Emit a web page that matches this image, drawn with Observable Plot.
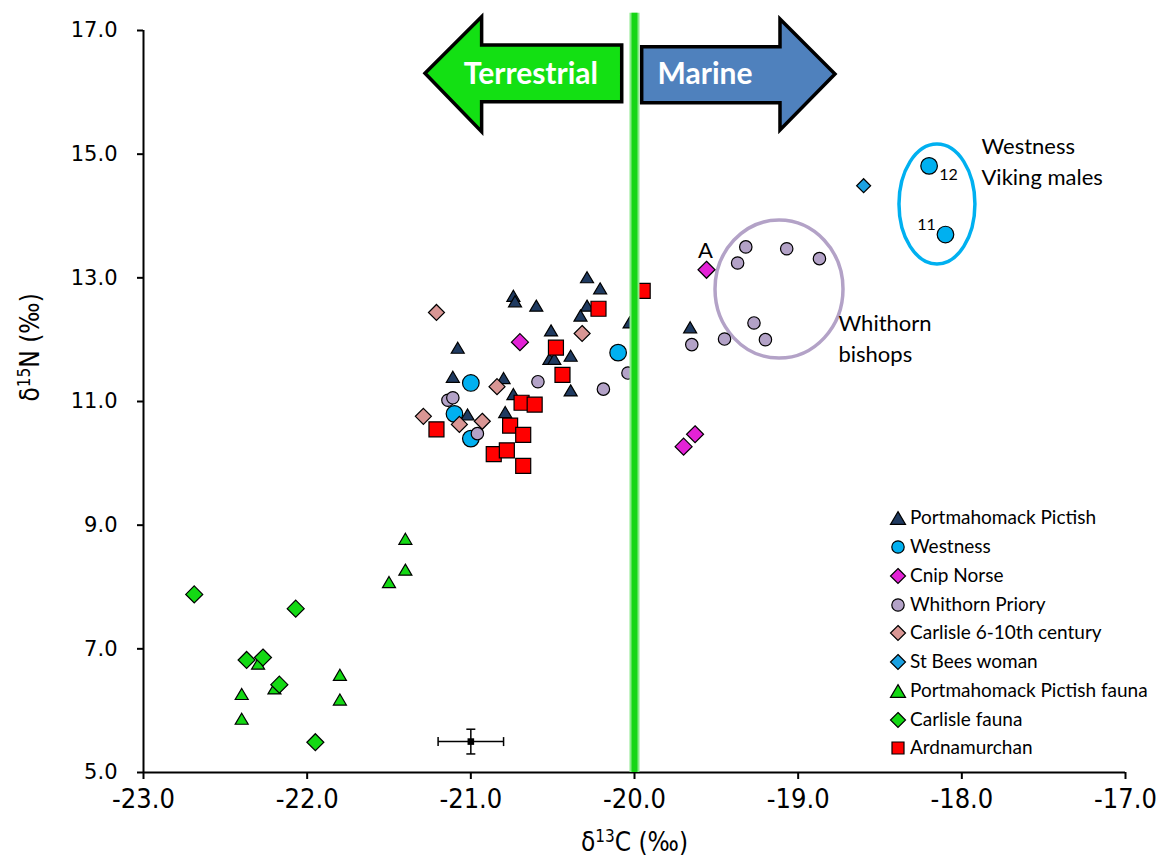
<!DOCTYPE html>
<html><head><meta charset="utf-8">
<script src="https://cdn.jsdelivr.net/npm/d3@7"></script>
<script src="https://cdn.jsdelivr.net/npm/@observablehq/plot@0.6"></script>
<style>
body{margin:0;background:#fff;}
#wrap{position:relative;width:1158px;height:863px;background:#fff;}
#wrap g[aria-label="x-axis tick label"]{font-family:"Liberation Sans Narrow","DejaVu Sans Condensed",Lato,sans-serif;font-size:27px;}
#wrap g[aria-label="y-axis tick label"]{font-family:"DejaVu Sans",sans-serif;font-size:21px;}
.leg{position:absolute;font-family:Lato,sans-serif;font-size:19px;color:#000;white-space:nowrap;line-height:20px;}
</style></head><body><div id="wrap"></div>
<script>
// ---- data: [δ13C, δ15N] ----
const portmahomack = [[-20.29,13.01],[-20.21,12.83],[-20.74,12.71],[-20.73,12.62],[-20.60,12.55],[-20.29,12.55],[-20.33,12.39],[-20.03,12.28],[-20.51,12.15],[-21.08,11.87],[-20.52,11.69],[-20.49,11.69],[-20.39,11.74],[-20.39,11.18],[-21.11,11.40],[-20.80,11.38],[-20.74,11.12],[-21.02,10.79],[-20.79,10.83],[-19.66,12.20]];
const westness = [[-20.10,11.79],[-21.00,11.30],[-21.10,10.80],[-21.00,10.40],[-18.20,14.81],[-18.10,13.70]];
const cnipNorse = [[-20.70,11.96],[-19.56,13.13],[-19.70,10.27],[-19.63,10.47]];
const whithorn = [[-20.04,11.46],[-20.19,11.20],[-20.59,11.32],[-21.14,11.02],[-21.11,11.06],[-20.96,10.48],[-19.65,11.92],[-19.32,13.50],[-19.37,13.24],[-19.07,13.47],[-18.87,13.31],[-19.27,12.27],[-19.20,12.00],[-19.45,12.01]];
const carlisle = [[-21.21,12.44],[-20.32,12.10],[-20.84,11.24],[-21.29,10.76],[-21.07,10.63],[-20.93,10.68]];
const stBees = [[-18.60,14.49]];
const portFauna = [[-21.40,8.78],[-21.40,8.28],[-21.50,8.08],[-22.30,6.76],[-22.20,6.36],[-22.40,6.27],[-22.40,5.87],[-21.80,6.58],[-21.80,6.18]];
const carlisleFauna = [[-22.69,7.88],[-22.07,7.65],[-22.37,6.82],[-22.27,6.86],[-22.17,6.42],[-21.95,5.49]];
const ardnamurchan = [[-19.95,12.79],[-20.22,12.50],[-20.48,11.87],[-20.44,11.43],[-20.69,10.98],[-20.61,10.95],[-21.21,10.55],[-20.76,10.61],[-20.68,10.46],[-20.86,10.15],[-20.78,10.21],[-20.68,9.96]];
const seriesNames = ["Portmahomack Pictish","Westness","Cnip Norse","Whithorn Priory","Carlisle 6-10th century","St Bees woman","Portmahomack Pictish fauna","Carlisle fauna","Ardnamurchan"];
const errorBar = [{c:-21.0, n:5.5, ec:0.2, en:0.2}];
const divideC = -20.0;
const xTicks = [-23,-22,-21,-20,-19,-18,-17];
const yTicks = [5,7,9,11,13,15,17];
const groupNotes = [
  {t:"Whithorn", c:-18.754, n:12.26},
  {t:"bishops", c:-18.754, n:11.745},
  {t:"Westness", c:-17.88, n:15.11},
  {t:"Viking males", c:-17.88, n:14.62}
];
const pointNotes = [
  {t:"A", c:-19.566, n:13.44, size:22},
  {t:"12", c:-18.082, n:14.67, size:16},
  {t:"11", c:-18.216, n:13.86, size:16}
];
const groupEllipses = [
  {c:-19.114, n:12.81, rc:0.391, rn:1.116, stroke:"#B3A2C7"},
  {c:-18.149, n:14.186, rc:0.232, rn:0.970, stroke:"#00B0F0"}
];

// ---- symbols ----
const rOf = s => Math.sqrt(s/Math.PI);
const diamond = {draw(c,s){const r=rOf(s);c.moveTo(0,-r);c.lineTo(r,0);c.lineTo(0,r);c.lineTo(-r,0);c.closePath();}};
const triangle = {draw(c,s){const r=rOf(s);c.moveTo(0,-0.85*r);c.lineTo(r,0.85*r);c.lineTo(-r,0.85*r);c.closePath();}};
const square = {draw(c,s){const r=rOf(s);c.moveTo(-r,-r);c.lineTo(r,-r);c.lineTo(r,r);c.lineTo(-r,r);c.closePath();}};
const circle = {draw(c,s){const r=rOf(s);c.moveTo(r,0);c.arc(0,0,r,0,2*Math.PI);}};
const vcap = {draw(c,s){const r=rOf(s);c.moveTo(0,-r);c.lineTo(0,r);}};
const hcap = {draw(c,s){const r=rOf(s);c.moveTo(-r,0);c.lineTo(r,0);}};

const series = [
  {data:portmahomack, symbol:triangle, fill:"#1F3A60", r:6.5, lr:7.5},
  {data:westness, symbol:circle, fill:"#00B0F0", r:8.3, lr:6.2},
  {data:cnipNorse, symbol:diamond, fill:"#E322D6", r:8.5, lr:7.5},
  {data:whithorn, symbol:circle, fill:"#B3A2C7", r:6.2, lr:6.2},
  {data:carlisle, symbol:diamond, fill:"#D99694", r:8, lr:7.5},
  {data:stBees, symbol:diamond, fill:"#1BA1E2", r:7, lr:7.5},
  {data:portFauna, symbol:triangle, fill:"#14D914", r:6.5, lr:7.5},
  {data:carlisleFauna, symbol:diamond, fill:"#14D914", r:8.5, lr:7.5},
  {data:ardnamurchan, symbol:square, fill:"#FF0000", r:7.5, lr:6}
].map((s,i)=>({...s, name:seriesNames[i]}));

// ---- annotation render marks ----
const arrowLeft = [[-21.277,16.30],[-20.931,17.215],[-20.931,16.757],[-20.075,16.757],[-20.075,15.84],[-20.931,15.84],[-20.931,15.355]];
const arrowRight = [[-19.953,16.73],[-19.108,16.73],[-19.108,17.178],[-18.772,16.288],[-19.108,15.383],[-19.108,15.824],[-19.953,15.824]];

function arrows(index, scales) {
  const {x, y} = scales;
  const g = d3.create("svg:g").attr("aria-label","arrows");
  const poly = (pts, fill) => g.append("path")
    .attr("d", "M" + pts.map(([c,n]) => `${x(c)},${y(n)}`).join("L") + "Z")
    .attr("fill", fill).attr("stroke","black").attr("stroke-width",3.5).attr("stroke-linejoin","miter");
  poly(arrowLeft, "#13E013");
  poly(arrowRight, "#4F81BD");
  const lab = (t, c, n) => g.append("text").attr("x", x(c)).attr("y", y(n)).attr("dy","0.36em")
    .attr("text-anchor","start")
    .attr("fill","white").attr("font-family","Lato, sans-serif").attr("font-weight","bold").attr("font-size",30).text(t);
  lab("Terrestrial", -21.04, 16.30);
  lab("Marine", -19.856, 16.30);
  return g.node();
}
function ellipses(index, scales) {
  const {x, y} = scales;
  const g = d3.create("svg:g").attr("aria-label","ellipses");
  for (const e of groupEllipses) {
    g.append("ellipse").attr("cx", x(e.c)).attr("cy", y(e.n))
      .attr("rx", Math.abs(x(e.c + e.rc) - x(e.c))).attr("ry", Math.abs(y(e.n + e.rn) - y(e.n)))
      .attr("fill","none").attr("stroke", e.stroke).attr("stroke-width",3.5);
  }
  return g.node();
}

const dotMarks = series.map(s => Plot.dot(s.data, {x: d=>d[0], y: d=>d[1], symbol: s.symbol, r: s.r, fill: s.fill, stroke:"black", strokeWidth:1.2}));

const X_TITLE = "δ13C (‰)", Y_TITLE = "δ15N (‰)";

const chart = Plot.plot({
  width: 1158, height: 863,
  marginLeft: 143, marginRight: 33, marginTop: 30, marginBottom: 91,
  x: {domain: [-23, -17]},
  y: {domain: [5, 17]},
  style: {background: "white", fontFamily: "Lato, sans-serif", overflow: "visible", color: "black"},
  marks: [
    Plot.axisX({ticks: xTicks, tickFormat: d => d.toFixed(1), tickSize: 7, tickPadding: 9, strokeWidth: 2, label: null}),
    Plot.axisY({ticks: yTicks, tickFormat: d => d.toFixed(1), tickSize: 6, tickPadding: 20, strokeWidth: 2, label: null}),
    Plot.ruleY([5], {stroke: "black", strokeWidth: 2}),
    Plot.ruleX([-23], {y1: 5, y2: 17, stroke: "black", strokeWidth: 2}),
    // error bar
    Plot.link(errorBar, {x1: d => d.c - d.ec, x2: d => d.c + d.ec, y1: "n", y2: "n", stroke: "black", strokeWidth: 1.5}),
    Plot.link(errorBar, {x1: "c", x2: "c", y1: d => d.n - d.en, y2: d => d.n + d.en, stroke: "black", strokeWidth: 1.5}),
    Plot.dot(errorBar, {x: d => d.c - d.ec, y: "n", symbol: vcap, r: 4.5, stroke: "black", strokeWidth: 1.5, fill: "none"}),
    Plot.dot(errorBar, {x: d => d.c + d.ec, y: "n", symbol: vcap, r: 4.5, stroke: "black", strokeWidth: 1.5, fill: "none"}),
    Plot.dot(errorBar, {x: "c", y: d => d.n - d.en, symbol: hcap, r: 4.5, stroke: "black", strokeWidth: 1.5, fill: "none"}),
    Plot.dot(errorBar, {x: "c", y: d => d.n + d.en, symbol: hcap, r: 4.5, stroke: "black", strokeWidth: 1.5, fill: "none"}),
    Plot.dot(errorBar, {x: "c", y: "n", symbol: square, r: 3.3, fill: "black"}),
    ellipses,
    ...dotMarks,
    // terrestrial / marine divide
    Plot.ruleX([divideC], {y1: 5, y2: 17.28, stroke: "#8BEA8B", strokeWidth: 10}),
    Plot.ruleX([divideC], {y1: 5, y2: 17.28, stroke: "#16D616", strokeWidth: 6}),
    arrows,
    Plot.text(groupNotes, {x: "c", y: "n", text: "t", textAnchor: "start", fontSize: 22, fill: "black"}),
    Plot.text(pointNotes, {x: "c", y: "n", text: "t", textAnchor: "middle", fontSize: "size", fill: "black"}),
    Plot.text([X_TITLE], {frameAnchor: "bottom", dy: 78, text: d => d}),
    Plot.text([Y_TITLE], {frameAnchor: "left", dx: -113, rotate: -90, text: d => d})
  ]
});

const wrap = document.getElementById("wrap");
wrap.appendChild(chart);

// superscripts in axis titles
function title(label, pre, sup, post) {
  const t = d3.select(chart).selectAll("text").filter(function() { return this.textContent === label; });
  t.text(null).attr("font-family", '"Liberation Sans Narrow","DejaVu Sans Condensed",Lato,sans-serif').attr("font-size", 26).attr("fill","black");
  t.append("tspan").text(pre);
  t.append("tspan").attr("dy", -9).attr("font-size", 17).text(sup);
  t.append("tspan").attr("dy", 9).text(post);
}
title(X_TITLE, "δ", "13", "C (‰)");
title(Y_TITLE, "δ", "15", "N (‰)");

// legend
const legTop = 518.3, legStep = 28.75;
series.forEach((s, i) => {
  const cy = legTop + i * legStep;
  const svg = d3.select(wrap).append("svg").attr("width", 20).attr("height", 20)
    .style("position","absolute").style("left", (898-10)+"px").style("top", (cy-10)+"px");
  svg.append("path").attr("transform","translate(10,10)")
    .attr("d", d3.symbol(s.symbol, s.lr*s.lr*Math.PI)())
    .attr("fill", s.fill).attr("stroke","black").attr("stroke-width",1.2);
  d3.select(wrap).append("div").attr("class","leg")
    .style("left","910px").style("top",(cy-11)+"px").text(s.name);
});
</script>
</body></html>
